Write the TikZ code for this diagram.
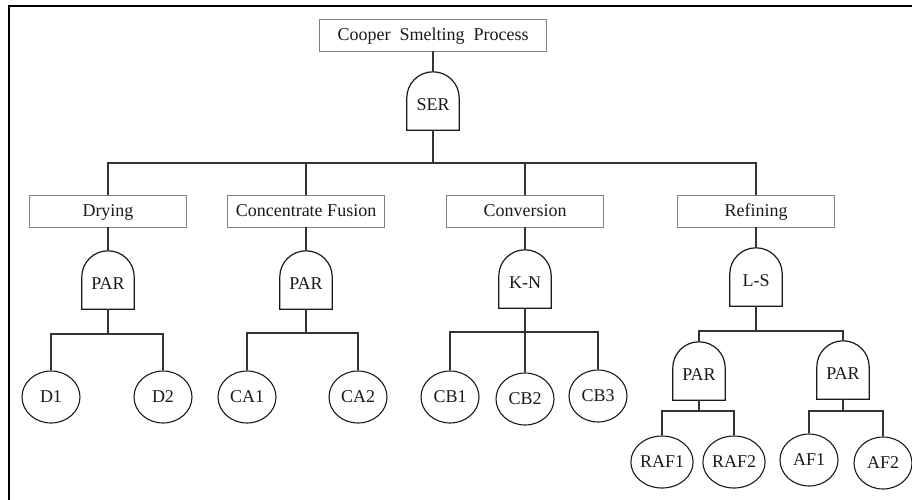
\documentclass[tikz,border=0pt]{standalone}
\usepackage{fontspec}
\setmainfont{Liberation Serif}
\usetikzlibrary{shapes.geometric,calc}
\definecolor{boxgrey}{HTML}{808080}
\definecolor{ink}{HTML}{1A1A1A}
\definecolor{wirecol}{HTML}{333333}
\tikzset{
  every node/.style={font=\fontsize{18}{21}\selectfont, text=ink},
  stage/.style={draw=boxgrey, line width=0.9pt, minimum width=157pt, minimum height=32pt,
    inner sep=0pt, text height=11.9pt, text depth=0pt},
  gate/.style={minimum width=52pt, minimum height=58pt, inner sep=0pt,
    text height=18.9pt, text depth=0pt},
  gateline/.style={draw=ink, line width=1.2pt, line join=miter},
  event/.style={ellipse, draw=ink, line width=1.1pt, minimum width=58pt, minimum height=52pt,
    inner sep=0pt, text height=11.9pt, text depth=0pt},
  wire/.style={draw=wirecol, line width=1.2pt},
  frame/.style={draw=black, line width=2.5pt}
}
\begin{document}
\begin{tikzpicture}[x=1pt,y=-1pt]
\useasboundingbox (0,0) rectangle (912,500);
% outer frame (top and left edges)
\draw[frame] (9,500) -- (9,6) -- (912,6);

% root event and top gate
\node[stage, minimum width=227pt] (top) at (433,35) {Cooper\hspace{0.5em}Smelting\hspace{0.5em}Process};
\node[gate] (ser) at (433,101) {SER};
\coordinate (hub) at (433,163);

% process stages
\node[stage] (dry)  at (108,211) {Drying};
\node[stage] (fus)  at (306,211) {Concentrate Fusion};
\node[stage] (conv) at (525,211) {Conversion};
\node[stage] (ref)  at (756,211) {Refining};

% stage gates
\node[gate] (gdry)  at (108,280) {PAR};
\node[gate] (gfus)  at (306,280) {PAR};
\node[gate] (gconv) at (525,279) {K-N};
\node[gate] (gref)  at (756,277) {L-S};
\node[gate] (graf)  at (699,371) {PAR};
\node[gate] (gaf)   at (843,370) {PAR};

% basic events
\node[event] (d1)   at (51,397)  {D1};
\node[event] (d2)   at (163,397) {D2};
\node[event] (ca1)  at (247,397) {CA1};
\node[event] (ca2)  at (358,397) {CA2};
\node[event] (cb1)  at (450,397) {CB1};
\node[event] (cb2)  at (525,399) {CB2};
\node[event] (cb3)  at (598,396) {CB3};
\node[event] (raf1) at (662,462) {RAF1};
\node[event] (raf2) at (734,462) {RAF2};
\node[event] (af1)  at (809,460) {AF1};
\node[event] (af2)  at (883,463) {AF2};

% gate outlines: flat base, rounded top
\foreach \g in {ser,gdry,gfus,gconv,gref,graf,gaf}
  \draw[gateline] (\g.south west) -- ($(\g.north west)+(0,26)$)
    .. controls ($(\g.north west)+(0,11.6)$) and ($(\g.north)+(-14.4,0)$) .. (\g.north)
    .. controls ($(\g.north)+(14.4,0)$) and ($(\g.north east)+(0,11.6)$) .. ($(\g.north east)+(0,26)$)
    -- (\g.south east) -- cycle;

% junction points of the branch lines
\coordinate (jdry)  at (108,334);
\coordinate (jfus)  at (306,333);
\coordinate (jconv) at (525,332);
\coordinate (jref)  at (756,331);
\coordinate (jraf)  at (699,411);
\coordinate (jaf)   at (843,411);

% connectors
\draw[wire] (top.south) -- (ser.north);
\draw[wire] (ser.south) -- (hub);
\foreach \s in {dry,fus,conv,ref} \draw[wire] (hub) -| (\s.north);
\draw[wire] (dry.south)  -- (gdry.north);
\draw[wire] (fus.south)  -- (gfus.north);
\draw[wire] (conv.south) -- (gconv.north);
\draw[wire] (ref.south)  -- (gref.north);

\draw[wire] (gdry.south) -- (jdry);
\draw[wire] (jdry) -| (d1.north);
\draw[wire] (jdry) -| (d2.north);

\draw[wire] (gfus.south) -- (jfus);
\draw[wire] (jfus) -| (ca1.north);
\draw[wire] (jfus) -| (ca2.north);

\draw[wire] (gconv.south) -- (jconv);
\draw[wire] (jconv) -| (cb1.north);
\draw[wire] (jconv) -| (cb2.north);
\draw[wire] (jconv) -| (cb3.north);

\draw[wire] (gref.south) -- (jref);
\draw[wire] (jref) -| (graf.north);
\draw[wire] (jref) -| (gaf.north);

\draw[wire] (graf.south) -- (jraf);
\draw[wire] (jraf) -| (raf1.north);
\draw[wire] (jraf) -| (raf2.north);

\draw[wire] (gaf.south) -- (jaf);
\draw[wire] (jaf) -| (af1.north);
\draw[wire] (jaf) -| (af2.north);
\end{tikzpicture}
\end{document}
